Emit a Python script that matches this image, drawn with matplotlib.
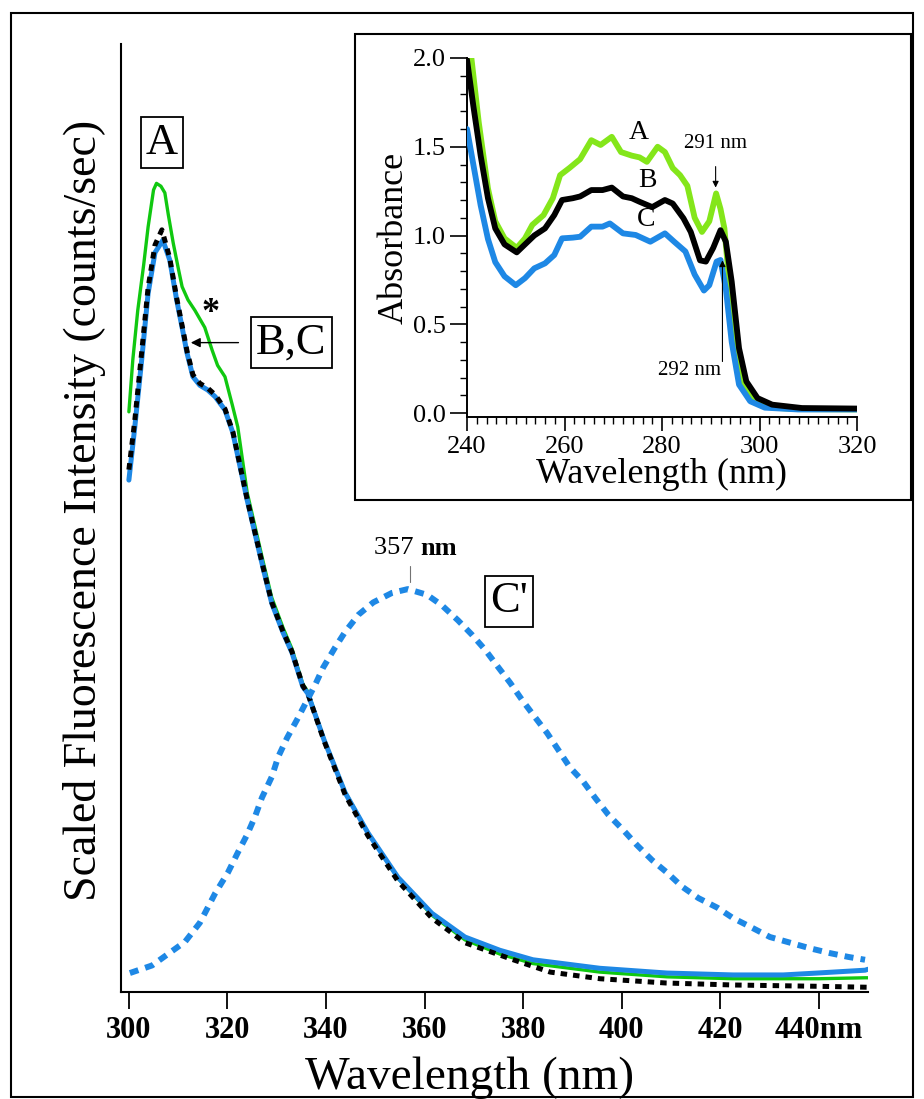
import matplotlib
matplotlib.use("Agg")
import matplotlib.pyplot as plt
from matplotlib.patches import Rectangle
from matplotlib.ticker import MultipleLocator

plt.rcParams['font.family'] = ['Liberation Serif', 'DejaVu Serif']
plt.rcParams['lines.solid_joinstyle'] = 'round'
plt.rcParams['lines.solid_capstyle'] = 'round'

W, H = 924, 1099
DPI = 100

# emission spectra (scaled intensity), excitation at the A/B/C samples
wl_a = [300.0, 300.8, 301.8, 303.0, 303.9, 305.0, 305.6, 306.5, 307.3, 308.0, 309.0,
        310.0, 310.8, 312.0, 313.4, 315.4, 316.9, 318.0, 319.5, 321.0, 322.1, 324.0,
        327.2, 329.0, 331.3, 333.1, 335.3, 336.3, 339.6, 343.9, 348.5, 354.6, 361.5,
        368.2, 375.3, 382.0, 395.6, 409.2, 422.6, 432.8, 440.0, 449.4, 450.0]
int_a = [0.612, 0.667, 0.719, 0.767, 0.807, 0.846, 0.853, 0.850, 0.843, 0.820, 0.790,
         0.764, 0.744, 0.730, 0.719, 0.701, 0.677, 0.661, 0.649, 0.619, 0.596, 0.527,
         0.455, 0.416, 0.384, 0.362, 0.325, 0.317, 0.267, 0.211, 0.168, 0.120, 0.081,
         0.055, 0.040, 0.030, 0.021, 0.016, 0.014, 0.014, 0.014, 0.015, 0.015]

wl_b = [300.0, 301.2, 302.6, 303.9, 305.3, 306.7, 308.3, 309.7, 310.8, 311.8, 313.0,
        314.4, 316.0, 317.5, 319.5, 321.1, 324.0, 327.2, 329.0, 331.3, 333.1, 335.3,
        336.3, 339.6, 343.9, 348.5, 354.6, 361.5, 368.2, 378.0, 385.5, 395.6, 409.0,
        422.6, 440.0, 450.0]
int_b = [0.551, 0.603, 0.675, 0.743, 0.788, 0.804, 0.774, 0.732, 0.703, 0.676, 0.651,
         0.642, 0.637, 0.630, 0.615, 0.591, 0.520, 0.449, 0.411, 0.380, 0.359, 0.323,
         0.315, 0.265, 0.208, 0.165, 0.117, 0.078, 0.052, 0.034, 0.021, 0.014, 0.0095,
         0.0074, 0.006, 0.005]

wl_c = [300.0, 301.2, 302.6, 303.9, 305.3, 306.9, 308.3, 309.7, 310.8, 311.8, 313.0,
        314.4, 316.0, 317.5, 319.5, 321.1, 324.0, 327.2, 329.0, 331.3, 333.1, 335.3,
        336.3, 339.6, 343.9, 348.5, 354.6, 361.5, 368.2, 375.3, 382.0, 395.6, 409.2,
        422.6, 432.8, 439.7, 449.4, 450.0]
int_c = [0.540, 0.596, 0.667, 0.737, 0.780, 0.793, 0.772, 0.730, 0.701, 0.674, 0.649,
         0.640, 0.635, 0.628, 0.614, 0.590, 0.519, 0.448, 0.410, 0.379, 0.358, 0.322,
         0.315, 0.266, 0.210, 0.168, 0.121, 0.083, 0.058, 0.044, 0.034, 0.025, 0.020,
         0.018, 0.018, 0.020, 0.023, 0.024]

# C' : sample C excited at the red-shifted band
wl_cp = [300.2, 304.7, 311.4, 314.4, 317.5, 320.1, 322.1, 324.0, 325.6, 327.0, 329.0,
         330.3, 332.1, 334.1, 336.2, 337.8, 339.4, 341.8, 343.9, 346.6, 349.6, 353.4,
         356.6, 360.5, 363.5, 366.8, 369.6, 372.3, 374.9, 377.4, 379.8, 382.4, 384.9,
         387.2, 389.5, 392.2, 394.6, 397.3, 400.3, 403.1, 406.2, 409.2, 412.3, 415.6,
         419.4, 422.6, 426.4, 430.1, 434.2, 438.3, 442.3, 446.0, 449.4]
int_cp = [0.020, 0.028, 0.053, 0.073, 0.104, 0.126, 0.147, 0.166, 0.185, 0.205, 0.227,
          0.248, 0.268, 0.287, 0.308, 0.324, 0.342, 0.363, 0.380, 0.398, 0.411, 0.421,
          0.425, 0.419, 0.408, 0.392, 0.377, 0.361, 0.343, 0.326, 0.308, 0.290, 0.273,
          0.255, 0.237, 0.222, 0.205, 0.187, 0.171, 0.155, 0.139, 0.126, 0.111, 0.099,
          0.089, 0.078, 0.068, 0.058, 0.052, 0.046, 0.041, 0.037, 0.034]

main_ticks = [300, 320, 340, 360, 380, 400, 420, 440]
main_ticklabels = ['300', '320', '340', '360', '380', '400', '420', '440nm']

# absorption spectra
wl_abs_a = [240.0, 240.9, 242.4, 244.3, 245.8, 247.7, 250.2, 251.9, 253.4, 255.7, 257.6,
            259.1, 261.0, 263.2, 265.5, 267.4, 269.7, 271.6, 273.8, 275.4, 276.9, 279.1,
            280.6, 282.2, 283.7, 285.2, 286.7, 288.2, 289.7, 291.1, 292.0, 292.8, 293.9,
            295.0, 296.5, 298.8, 302.6, 308.0, 320.0]
abs_a = [2.15, 2.0, 1.64, 1.265, 1.08, 0.984, 0.93, 0.984, 1.06, 1.115, 1.21,
         1.34, 1.38, 1.43, 1.537, 1.51, 1.556, 1.47, 1.45, 1.44, 1.415, 1.50,
         1.47, 1.38, 1.34, 1.28, 1.10, 1.02, 1.08, 1.237, 1.15, 1.04, 0.70,
         0.33, 0.18, 0.065, 0.03, 0.022, 0.02]

wl_abs_b = [240.0, 241.3, 242.8, 244.3, 245.8, 247.7, 250.2, 251.9, 253.8, 256.0, 257.9,
            259.5, 261.7, 263.2, 265.5, 267.8, 269.7, 272.0, 273.8, 275.4, 278.0, 280.6,
            282.2, 284.4, 285.9, 287.8, 289.0, 290.5, 292.0, 293.1, 294.3, 295.8, 297.3,
            299.6, 302.6, 308.7, 320.0]
abs_b = [1.99, 1.73, 1.45, 1.21, 1.04, 0.95, 0.905, 0.95, 1.0, 1.04, 1.115,
         1.20, 1.21, 1.22, 1.256, 1.256, 1.27, 1.22, 1.21, 1.19, 1.16, 1.20,
         1.18, 1.097, 1.02, 0.86, 0.853, 0.93, 1.03, 0.965, 0.74, 0.365, 0.178,
         0.084, 0.047, 0.028, 0.025]

wl_abs_c = [240.0, 241.3, 242.8, 244.3, 245.8, 247.7, 250.0, 251.9, 253.8, 256.0, 257.9,
            259.5, 261.7, 263.2, 265.5, 267.8, 269.3, 272.0, 274.6, 277.6, 280.6, 282.5,
            284.8, 286.7, 288.6, 289.7, 291.2, 292.0, 293.1, 294.3, 295.8, 298.1, 301.1,
            307.9, 320.0]
abs_c = [1.60, 1.40, 1.17, 0.98, 0.85, 0.77, 0.72, 0.76, 0.815, 0.843, 0.89,
         0.984, 0.988, 0.993, 1.05, 1.05, 1.068, 1.012, 1.003, 0.965, 1.012, 0.965,
         0.91, 0.78, 0.69, 0.72, 0.853, 0.862, 0.70, 0.40, 0.16, 0.066, 0.03,
         0.02, 0.02]

green = '#10c810'
lime = '#84e61a'
blue = '#1e88e5'


def fx(px):
    return px / W


def fy(py):
    return 1 - py / H


fig = plt.figure(figsize=(W / DPI, H / DPI), dpi=DPI)

# ---- emission spectra ----
ax = fig.add_axes([fx(121), fy(992), 747 / W, 948 / H])
ax.plot(wl_a, int_a, color=green, lw=2.4, zorder=2)
ax.plot(wl_c, int_c, color=blue, lw=3.6, zorder=3)
ax.plot(wl_b, int_b, color='black', lw=3.6, ls=(0, (1.3, 1.2)), zorder=4)
ax.plot(wl_cp, int_cp, color=blue, lw=4.3, ls=(0, (1.5, 1.2)), zorder=5)
ax.set_xlim(298.4, 450)
ax.set_ylim(0, 1)
ax.spines['top'].set_visible(False)
ax.spines['right'].set_visible(False)
ax.spines['left'].set_linewidth(1.5)
ax.spines['bottom'].set_linewidth(1.5)
ax.set_yticks([])
ax.set_xticks(main_ticks)
ax.set_xticklabels(main_ticklabels, fontsize=22, fontweight='bold')
ax.tick_params(axis='x', direction='out', length=12, width=1.3, pad=5)

box = dict(boxstyle='square,pad=0.12', fc='white', ec='black', lw=1.3)
ax.text(306.7, 0.896, 'A', fontsize=32, ha='center', va='center', bbox=box)
ax.text(333.0, 0.685, 'B,C', fontsize=32, ha='center', va='center', bbox=box)
ax.text(377.1, 0.412, "C'", fontsize=32, ha='center', va='center', bbox=box)
ax.text(316.6, 0.716, '*', fontsize=26, fontweight='bold', ha='center', va='center')
ax.annotate('', xy=(312.0, 0.685), xytext=(322.8, 0.685),
            arrowprops=dict(arrowstyle='-|>', color='black', lw=1.0,
                            mutation_scale=14))
ax.plot([357, 357], [0.433, 0.449], color='0.45', lw=0.8)
ax.text(359.1, 0.468, '357 ', fontsize=19, ha='right', va='center')
ax.text(359.1, 0.468, 'nm', fontsize=19, fontweight='bold', ha='left', va='center')

fig.text(fx(85), fy(510), 'Scaled Fluorescence Intensity (counts/sec)',
         fontsize=33, rotation=90, ha='center', va='center')
fig.text(fx(470), fy(1078), 'Wavelength (nm)', fontsize=34,
         ha='center', va='center')

# ---- absorption inset ----
ins = fig.add_axes([fx(467), fy(417), 390 / W, 359 / H])
ins.plot(wl_abs_a, abs_a, color=lime, lw=4.2, zorder=2)
ins.plot(wl_abs_c, abs_c, color=blue, lw=4.2, zorder=3)
ins.plot(wl_abs_b, abs_b, color='black', lw=4.2, zorder=4)
ins.set_xlim(240, 320)
ins.set_ylim(-0.0225, 2.0)
ins.spines['top'].set_visible(False)
ins.spines['right'].set_visible(False)
ins.spines['left'].set_linewidth(1.4)
ins.spines['bottom'].set_linewidth(1.4)
ins.xaxis.set_major_locator(MultipleLocator(20))
ins.xaxis.set_minor_locator(MultipleLocator(2))
ins.yaxis.set_major_locator(MultipleLocator(0.5))
ins.yaxis.set_minor_locator(MultipleLocator(0.1))
ins.yaxis.set_major_formatter(plt.FormatStrFormatter('%.1f'))
ins.tick_params(which='major', direction='out', labelsize=19, width=1.2)
ins.tick_params(axis='y', which='major', length=12, pad=3)
ins.tick_params(axis='x', which='major', length=10, pad=4)
ins.tick_params(which='minor', direction='out', length=5, width=1.0)
ins.set_xlabel('Wavelength (nm)', fontsize=26, labelpad=0)
ins.set_ylabel('Absorbance', fontsize=26, labelpad=2)

ins.text(275.3, 1.58, 'A', fontsize=20, ha='center', va='center')
ins.text(277.1, 1.31, 'B', fontsize=20, ha='center', va='center')
ins.text(276.7, 1.09, 'C', fontsize=20, ha='center', va='center')
ins.annotate('291 nm', xy=(291.0, 1.27), xytext=(291.0, 1.52), fontsize=15,
             ha='center', va='center',
             arrowprops=dict(arrowstyle='-|>', color='black', lw=0.8,
                             mutation_scale=9, shrinkA=8, shrinkB=0))
ins.annotate('', xy=(292.4, 0.86), xytext=(292.4, 0.29),
             arrowprops=dict(arrowstyle='-|>', color='black', lw=0.8,
                             mutation_scale=9, shrinkA=0, shrinkB=0))
ins.text(292.0, 0.238, '292 nm', fontsize=15, ha='right', va='center')

# frames around the whole figure and the inset
fig.patches.append(Rectangle((fx(355), fy(500)), 556 / W, 466 / H, fill=False,
                             ec='black', lw=1.5, transform=fig.transFigure))
fig.patches.append(Rectangle((fx(11), fy(1097)), 902 / W, 1084 / H, fill=False,
                             ec='black', lw=1.5, transform=fig.transFigure))

fig.savefig('out.png', dpi=DPI)
